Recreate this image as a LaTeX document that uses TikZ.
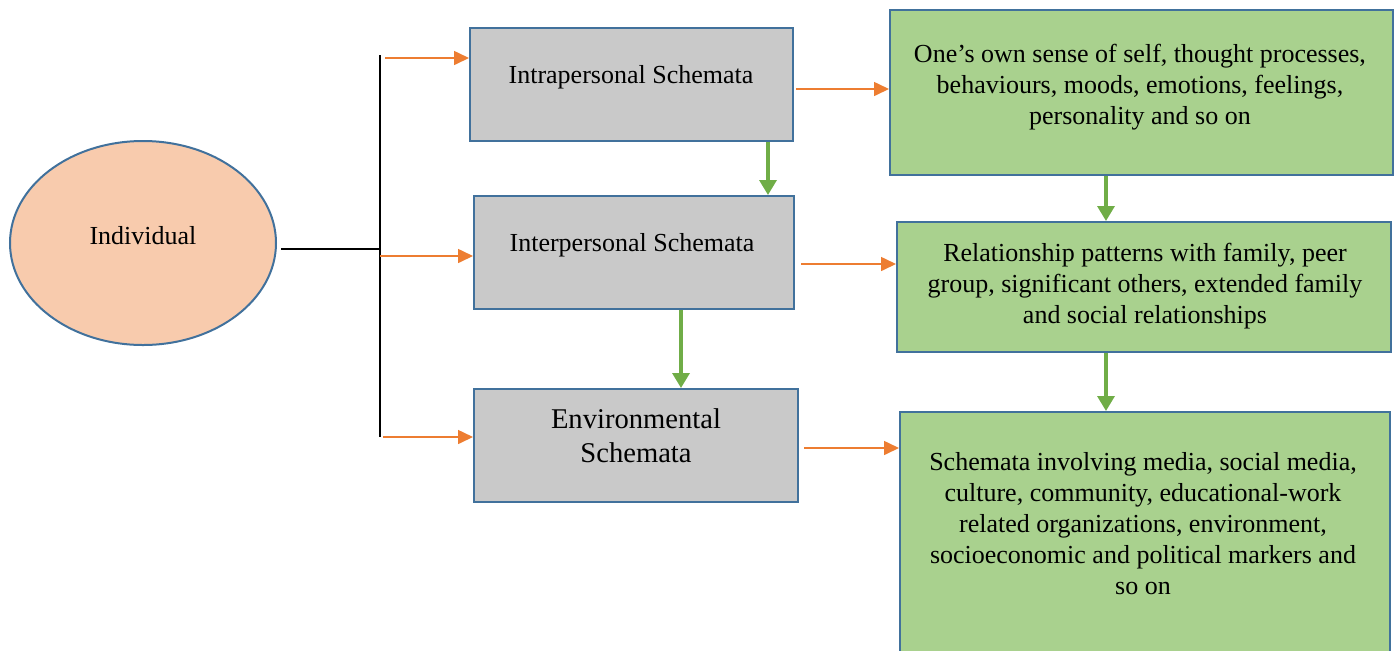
\documentclass[tikz,border=0pt]{standalone}
\usepackage{fontspec}
\setmainfont{Liberation Serif}
\usetikzlibrary{arrows.meta,positioning,shapes.geometric}
\definecolor{edgeb}{HTML}{41719C}
\definecolor{greyf}{HTML}{C9C9C9}
\definecolor{greenf}{HTML}{A9D18E}
\definecolor{peachf}{HTML}{F8CBAD}
\definecolor{orangex}{HTML}{ED7D31}
\definecolor{greenx}{HTML}{70AD47}
\tikzset{
  sbox/.style={draw=edgeb,line width=1pt,fill=greyf,inner sep=0pt},
  dbox/.style={draw=edgeb,line width=1pt,fill=greenf,inner sep=0pt},
  txt/.style={align=center,font=\fontsize{13}{15.5}\selectfont,inner sep=0pt},
  oar/.style={-{Triangle[length=7.5pt,width=7pt]},line width=0.8pt,orangex},
  gar/.style={-{Triangle[length=7.5pt,width=8.5pt]},line width=1.7pt,greenx},
  br/.style={line width=0.6pt,black}
}
\begin{document}
\begin{tikzpicture}[x=0.5pt,y=-0.5pt]
\useasboundingbox (0,0) rectangle (1394,650);
\clip (0,0) rectangle (1394,650);
% person
\node[ellipse,draw=edgeb,line width=1pt,fill=peachf,minimum width=133pt,minimum height=102pt] (ind) at (143,243) {};
\node[txt] (tind) at (143,236) {Individual};
% schemata boxes
\node[sbox,minimum width=161.5pt,minimum height=56.5pt] (b1) at (631.5,84.5) {};
\node[sbox,minimum width=160pt,minimum height=56.5pt] (b2) at (634,252.5) {};
\node[sbox,minimum width=162pt,minimum height=56.5pt] (b3) at (636,445.5) {};
\node[txt] (t1) at (631,77) {Intrapersonal Schemata};
\node[txt] (t2) at (632,245) {Interpersonal Schemata};
\node[txt,font=\fontsize{14.3}{17}\selectfont] (t3) at (636,436) {Environmental\\Schemata};
% descriptions
\node[dbox,minimum width=251.5pt,minimum height=82.5pt] (r1) at (1141.5,92.5) {};
\node[dbox,minimum width=247pt,minimum height=65pt] (r2) at (1144,287) {};
\node[dbox,minimum width=245pt,minimum height=129pt] (r3) at (1145,541) {};
\node[txt] (d1) at (1140,87) {One’s own sense of self, thought processes,\\behaviours, moods, emotions, feelings,\\personality and so on};
\node[txt] (d2) at (1145,286) {Relationship patterns with family, peer\\group, significant others, extended family\\and social relationships};
\node[txt] (d3) at (1143,524) {Schemata involving media, social media,\\culture, community, educational-work\\related organizations, environment,\\socioeconomic and political markers and\\so on};
% bracket
\coordinate (top) at (380,55);
\coordinate (bot) at (380,437);
\draw[br] ([xshift=2] ind.east |- 0,249) -- (top |- 0,249);
\draw[br] (top) -- (bot);
\draw[oar] ([xshift=2.5] top |- 0,58) -- (b1.west |- 0,58);
\draw[oar] (top |- 0,256) -- (b2.west |- 0,256);
\draw[oar] ([xshift=1.5] bot) -- (b3.west |- 0,437);
% to descriptions
\draw[oar] ([xshift=1] b1.east |- 0,89) -- (r1.west |- 0,89);
\draw[oar] ([xshift=3] b2.east |- 0,264) -- (r2.west |- 0,264);
\draw[oar] ([xshift=2.5] b3.east |- 0,448) -- (r3.west |- 0,448);
% downward links
\draw[gar] (b1.south -| 768,0) -- (b2.north -| 768,0);
\draw[gar] (b2.south -| 681,0) -- (b3.north -| 681,0);
\draw[gar] (r1.south -| 1106,0) -- (r2.north -| 1106,0);
\draw[gar] (r2.south -| 1106,0) -- (r3.north -| 1106,0);
\end{tikzpicture}
\end{document}
